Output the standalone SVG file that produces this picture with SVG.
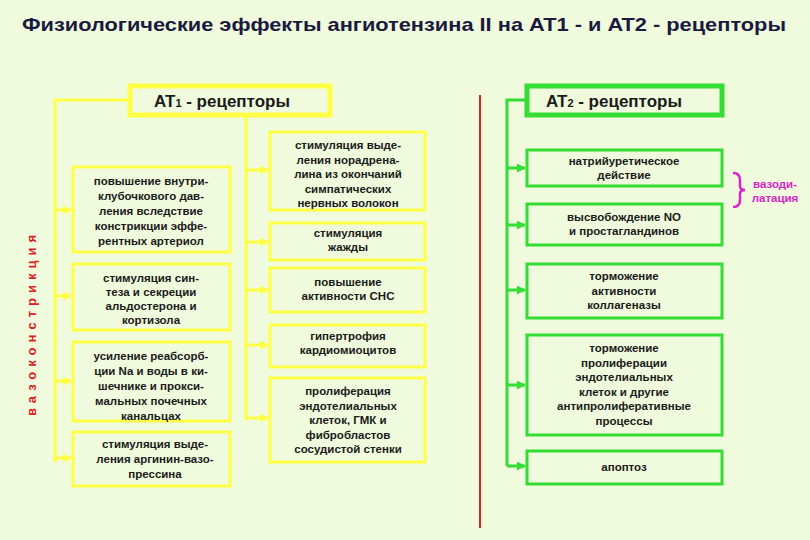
<svg xmlns="http://www.w3.org/2000/svg" width="810" height="540" viewBox="0 0 810 540">
<style>
text{font-family:"Liberation Sans",Arial,sans-serif;font-weight:bold;fill:#1a1a1a;text-anchor:middle}
.t{font-size:11.5px}
.y{fill:none;stroke:#ffff44;stroke-width:3}
.g{fill:none;stroke:#33dd33;stroke-width:3}
.yl{stroke:#ffff44;stroke-width:3;fill:none}
.gl{stroke:#33dd33;stroke-width:3;fill:none}
</style>
<defs>
<marker id="ay" viewBox="0 0 10 10" refX="9" refY="5" markerWidth="3" markerHeight="3" orient="auto"><path d="M0,0L10,5L0,10z" fill="#ffff44"/></marker>
<marker id="ag" viewBox="0 0 10 10" refX="9" refY="5" markerWidth="3" markerHeight="3" orient="auto"><path d="M0,0L10,5L0,10z" fill="#33dd33"/></marker>
</defs>
<rect width="810" height="540" fill="#f0fadc"/>
<text x="404" y="31" textLength="764" lengthAdjust="spacingAndGlyphs" style="font-size:18.5px;fill:#1a1a40">Физиологические эффекты ангиотензина II на AT1 -  и AT2 - рецепторы</text>
<text transform="translate(36,323) rotate(-90)" style="font-size:13px;fill:#e02020;letter-spacing:5px">вазоконстрикция</text>
<g id="connectors">
<path class="yl" d="M128,100H55V462"/>
<path class="yl" d="M55,210H71" marker-end="url(#ay)"/><path class="yl" d="M55,296H71" marker-end="url(#ay)"/><path class="yl" d="M55,381H71" marker-end="url(#ay)"/><path class="yl" d="M55,458H71" marker-end="url(#ay)"/>
<path class="yl" d="M246,116V420"/>
<path class="yl" d="M246,170H268" marker-end="url(#ay)"/><path class="yl" d="M246,242H268" marker-end="url(#ay)"/><path class="yl" d="M246,290H268" marker-end="url(#ay)"/><path class="yl" d="M246,345H268" marker-end="url(#ay)"/><path class="yl" d="M246,418H268" marker-end="url(#ay)"/>
<line x1="480" y1="95" x2="480" y2="528" stroke="#e02020" stroke-width="2"/>
<path class="gl" d="M525,100H507V466"/>
<path class="gl" d="M507,168H525" marker-end="url(#ag)"/><path class="gl" d="M507,225H525" marker-end="url(#ag)"/><path class="gl" d="M507,290H525" marker-end="url(#ag)"/><path class="gl" d="M507,385H525" marker-end="url(#ag)"/><path class="gl" d="M507,466H525" marker-end="url(#ag)"/>
</g>
<g id="at1"><rect x="130" y="86" width="200" height="29" class="y" style="stroke-width:5"/><text x="222" y="107" style="font-size:17px">AT<tspan style="font-size:11px">1</tspan> - рецепторы</text></g>
<g id="l1"><rect x="73" y="167" width="157" height="85" class="y"/><text class="t" x="151" y="185">повышение внутри-<tspan x="151" dy="15">клубочкового дав-</tspan><tspan x="151" dy="15">ления вследствие</tspan><tspan x="151" dy="15">констрикции эффе-</tspan><tspan x="151" dy="15">рентных артериол</tspan></text></g>
<g id="l2"><rect x="73" y="264" width="157" height="66" class="y"/><text class="t" x="151" y="282">стимуляция син-<tspan x="151" dy="14">теза и секреции</tspan><tspan x="151" dy="14">альдостерона и</tspan><tspan x="151" dy="14">кортизола</tspan></text></g>
<g id="l3"><rect x="73" y="342" width="157" height="79" class="y"/><text class="t" x="151" y="360">усиление реабсорб-<tspan x="151" dy="15">ции Na и воды в ки-</tspan><tspan x="151" dy="15">шечнике и прокси-</tspan><tspan x="151" dy="15">мальных почечных</tspan><tspan x="151" dy="15">канальцах</tspan></text></g>
<g id="l4"><rect x="73" y="432" width="157" height="54" class="y"/><text class="t" x="155" y="448">стимуляция  выде-<tspan x="155" dy="15">ления аргинин-вазо-</tspan><tspan x="155" dy="15">прессина</tspan></text></g>
<g id="c1"><rect x="270" y="132" width="155" height="78" class="y"/><text class="t" x="348" y="149">стимуляция выде-<tspan x="348" dy="14.5">ления норадрена-</tspan><tspan x="348" dy="14.5">лина из окончаний</tspan><tspan x="348" dy="14.5">симпатических</tspan><tspan x="348" dy="14.5">нервных волокон</tspan></text></g>
<g id="c2"><rect x="270" y="223" width="155" height="37" class="y"/><text class="t" x="348" y="237">стимуляция<tspan x="348" dy="14">жажды</tspan></text></g>
<g id="c3"><rect x="270" y="268" width="155" height="44" class="y"/><text class="t" x="348" y="286">повышение<tspan x="348" dy="14">активности СНС</tspan></text></g>
<g id="c4"><rect x="270" y="325" width="155" height="42" class="y"/><text class="t" x="348" y="340">гипертрофия<tspan x="348" dy="14">кардиомиоцитов</tspan></text></g>
<g id="c5"><rect x="270" y="378" width="155" height="84" class="y"/><text class="t" x="348" y="395">пролиферация<tspan x="348" dy="14.5">эндотелиальных</tspan><tspan x="348" dy="14.5">клеток, ГМК и</tspan><tspan x="348" dy="14.5">фибробластов</tspan><tspan x="348" dy="14.5">сосудистой стенки</tspan></text></g>
<g id="at2"><rect x="527" y="86" width="195" height="29" class="g" style="stroke-width:5"/><text x="614" y="107" style="font-size:17px">AT<tspan style="font-size:11px">2</tspan> - рецепторы</text></g>
<g id="r1"><rect x="527" y="150" width="195" height="36" class="g"/><text class="t" x="624" y="165">натрийуретическое<tspan x="624" dy="14">действие</tspan></text></g>
<g id="r2"><rect x="527" y="204" width="195" height="41" class="g"/><text class="t" x="624" y="221">высвобождение NO<tspan x="624" dy="14">и простагландинов</tspan></text></g>
<g id="r3"><rect x="527" y="264" width="195" height="54" class="g"/><text class="t" x="624" y="280">торможение<tspan x="624" dy="14.5">активности</tspan><tspan x="624" dy="14.5">коллагеназы</tspan></text></g>
<g id="r4"><rect x="527" y="335" width="195" height="100" class="g"/><text class="t" x="624" y="352">торможение<tspan x="624" dy="14.5">пролиферации</tspan><tspan x="624" dy="14.5">эндотелиальных</tspan><tspan x="624" dy="14.5">клеток и другие</tspan><tspan x="624" dy="14.5">антипролиферативные</tspan><tspan x="624" dy="14.5">процессы</tspan></text></g>
<g id="r5"><rect x="527" y="451" width="195" height="33" class="g"/><text class="t" x="624" y="471">апоптоз</text></g>
<g id="vaso"><path d="M733,173Q740,173 740,180V186Q740,190 745,190Q740,190 740,194V200Q740,207 733,207" fill="none" stroke="#dd22cc" stroke-width="2.5"/><text x="775" y="188" style="font-size:11.5px;fill:#dd22cc">вазоди-<tspan x="775" dy="14">латация</tspan></text></g>
</svg>
